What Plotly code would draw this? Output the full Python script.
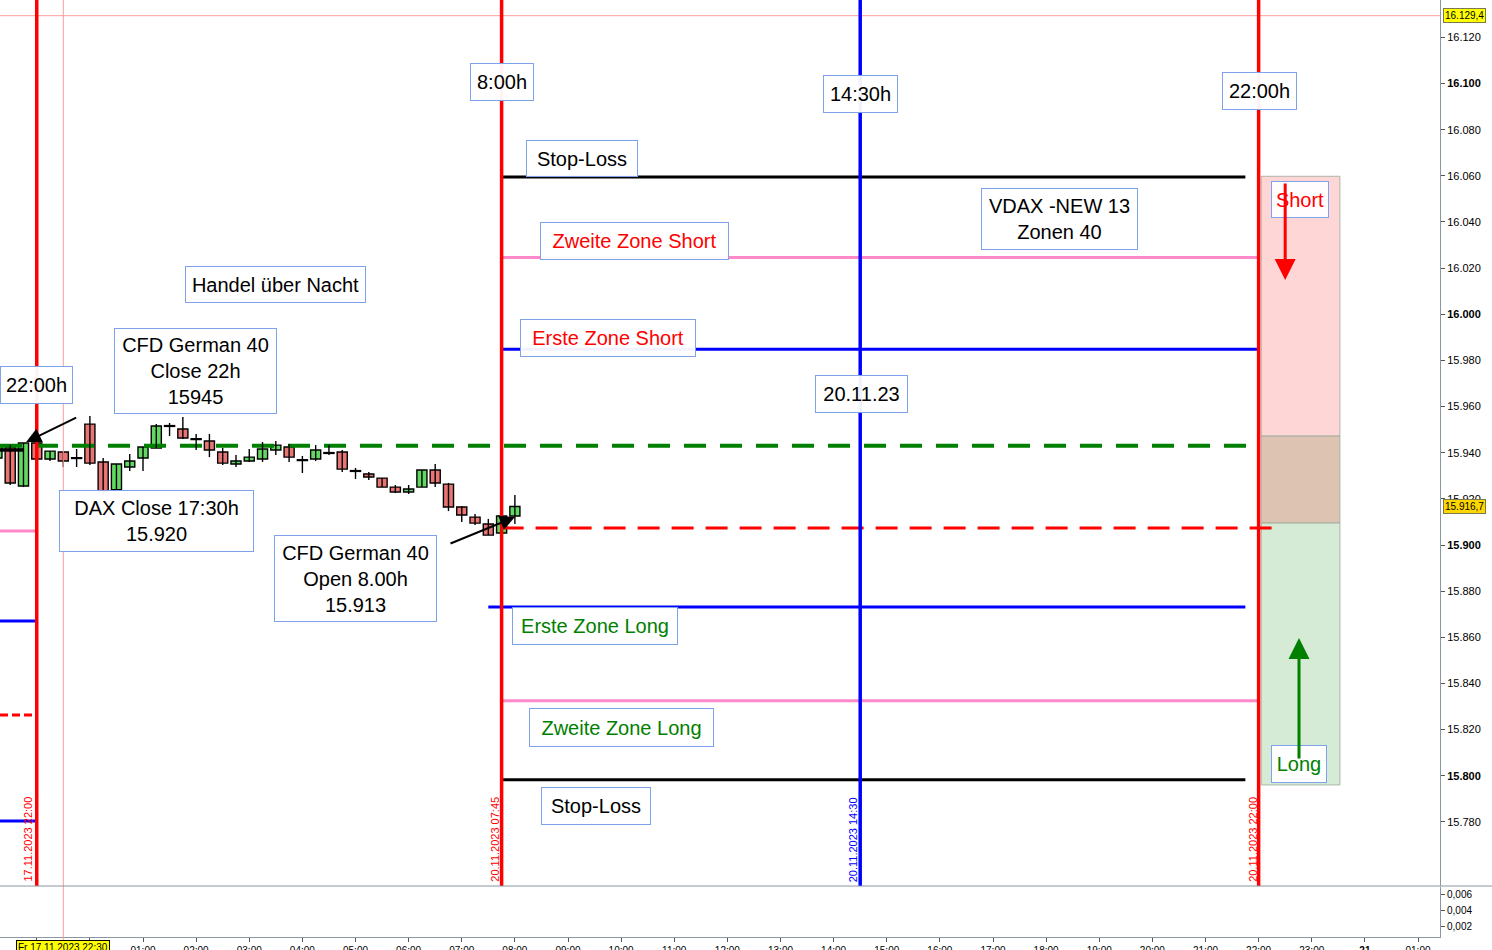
import plotly.graph_objects as go

# ---------------- data ----------------
# candle time positions in hours (0 = 20.11.2023 00:00, weekend gap removed)
candle_hours = [-1.75, -1.5, -1.25, -1.0, -0.75, -0.5, -0.25, 0.0, 0.25, 0.5,
                0.75, 1.0, 1.25, 1.5, 1.75, 2.0, 2.25, 2.5, 2.75, 3.0,
                3.25, 3.5, 3.75, 4.0, 4.25, 4.5, 4.75, 5.0, 5.25, 5.5,
                5.75, 6.0, 6.25, 6.5, 6.75, 7.0, 7.25, 7.5, 7.75, 8.0]
candle_open = [15937.7, 15942.5, 15925.6, 15944.2, 15937.3, 15940.3, 15937.7, 15952.4, 15936.0, 15924.0,
               15933.8, 15937.7, 15942.0, 15951.6, 15950.3, 15945.9, 15945.1, 15940.3, 15935.1, 15936.4,
               15937.3, 15941.2, 15942.5, 15936.8, 15937.3, 15939.9, 15940.3, 15932.1, 15930.8, 15929.0,
               15925.1, 15923.0, 15925.1, 15932.5, 15926.4, 15916.5, 15912.1, 15909.1, 15905.2, 15912.6]
candle_high = [15943.8, 15943.3, 15944.2, 15944.6, 15940.7, 15940.3, 15941.6, 15955.9, 15937.7, 15935.1,
               15939.4, 15942.5, 15952.4, 15952.9, 15955.5, 15948.1, 15948.1, 15942.0, 15939.0, 15941.6,
               15944.6, 15945.1, 15943.8, 15938.6, 15943.3, 15943.3, 15941.2, 15933.4, 15931.6, 15929.0,
               15926.0, 15926.0, 15932.5, 15935.1, 15926.9, 15916.9, 15913.4, 15911.3, 15912.6, 15921.7]
candle_low = [15937.3, 15926.0, 15925.1, 15937.3, 15936.4, 15933.8, 15933.8, 15934.7, 15921.7, 15923.8,
              15932.1, 15932.1, 15942.0, 15947.2, 15945.9, 15941.2, 15938.1, 15934.7, 15933.8, 15936.0,
              15936.0, 15939.0, 15936.0, 15931.2, 15936.4, 15939.0, 15931.6, 15928.6, 15928.2, 15925.1,
              15922.5, 15922.1, 15925.1, 15925.1, 15914.7, 15910.0, 15908.7, 15904.3, 15905.2, 15909.1]
candle_close = [15943.3, 15926.9, 15944.2, 15937.3, 15940.7, 15936.4, 15937.5, 15935.5, 15923.4, 15935.1,
                15936.4, 15942.5, 15951.6, 15951.4, 15946.4, 15945.7, 15941.2, 15935.5, 15936.4, 15938.1,
                15941.6, 15943.3, 15938.1, 15936.6, 15941.2, 15939.7, 15932.9, 15931.9, 15929.5, 15925.1,
                15923.0, 15924.3, 15932.5, 15926.9, 15916.5, 15913.0, 15909.5, 15904.3, 15912.6, 15916.7]

# horizontal levels (prices)
stop_loss_short = 16059.5
zone2_short = 16024.6
zone1_short = 15984.8
cfd_close_22h = 15943.0
cfd_open_8h = 15907.4
zone1_long = 15873.1
zone2_long = 15832.5
stop_loss_long = 15798.3
prev_black = 15941.2
prev_pink = 15906.1
prev_blue_1 = 15867.1
prev_red = 15826.3
prev_blue_2 = 15780.4

# time markers (hours)
t_fri_22 = -1.0
t_cross = -0.5
t_0745 = 7.75
t_1430 = 14.5
t_22 = 22.0

# trade zones
zone_short_top = 16059.8
zone_mid_top = 15947.2
zone_long_top = 15909.5
zone_long_bottom = 15796.0

crosshair_price = 16129.4
last_price = 15916.7

x_tick_vals = [-1, 0, 1, 2, 3, 4, 5, 6, 7, 8, 9, 10, 11, 12, 13, 14, 15, 16, 17, 18, 19, 20, 21, 22, 23, 24, 25]
x_tick_text = ["", "", "01:00", "02:00", "03:00", "04:00", "05:00", "06:00", "07:00", "08:00", "09:00",
               "10:00", "11:00", "12:00", "13:00", "14:00", "15:00", "16:00", "17:00", "18:00", "19:00",
               "20:00", "21:00", "22:00", "23:00", "<b>21</b>", "01:00"]
y_tick_vals = [15780, 15800, 15820, 15840, 15860, 15880, 15900, 15920, 15940, 15960,
               15980, 16000, 16020, 16040, 16060, 16080, 16100, 16120]

# ---------------- figure ----------------
FONT = "Arial, Liberation Sans, sans-serif"
X_RANGE = [-1.692, 25.414]
Y_RANGE = [15752.2, 16136.2]
fig = go.Figure()


def hline(price, x0, x1, color, width, dash="solid"):
    fig.add_trace(go.Scatter(x=[x0, x1], y=[price, price], mode="lines",
                             line=dict(color=color, width=width, dash=dash),
                             hoverinfo="skip", showlegend=False))


# previous-day levels on the left
hline(prev_pink, X_RANGE[0], t_fri_22, "#FF88C8", 3)
hline(prev_blue_1, X_RANGE[0], t_fri_22, "#0000FF", 3)
hline(prev_red, X_RANGE[0], t_fri_22, "#FF0000", 3, "8px,4px")
hline(prev_blue_2, X_RANGE[0], t_fri_22, "#0000FF", 3)
hline(prev_black, X_RANGE[0], -1.25, "#000000", 3.5)

# today's levels
hline(stop_loss_short, t_0745, 21.75, "#000000", 3)
hline(zone2_short, t_0745, t_22, "#FF88C8", 3)
hline(zone1_short, t_0745, t_22, "#0000FF", 3)
hline(cfd_close_22h, X_RANGE[0], t_22, "#008000", 4, "22px,14px")
hline(cfd_open_8h, t_0745, 22.25, "#FF0000", 3, "22px,12px")
hline(zone1_long, 7.5, 21.75, "#0000FF", 3)
hline(zone2_long, t_0745, t_22, "#FF88C8", 3)
hline(stop_loss_long, t_0745, 21.75, "#000000", 3)

# candles: wicks
wx, wy = [], []
for t, h, l in zip(candle_hours, candle_high, candle_low):
    wx += [t, t, None]
    wy += [l, h, None]
fig.add_trace(go.Scatter(x=wx, y=wy, mode="lines", line=dict(color="black", width=1.4),
                         hoverinfo="skip", showlegend=False))
# candles: bodies
bases = [min(o, c) for o, c in zip(candle_open, candle_close)]
heights = [max(abs(c - o), 0.35) for o, c in zip(candle_open, candle_close)]
colors = ["#62D862" if c >= o else "#E97474" for o, c in zip(candle_open, candle_close)]
fig.add_trace(go.Bar(x=candle_hours, y=heights, base=bases, width=0.19,
                     marker=dict(color=colors, line=dict(color="black", width=1.4)),
                     hoverinfo="skip", showlegend=False))

# empty indicator pane
fig.add_trace(go.Scatter(x=[None], y=[None], xaxis="x", yaxis="y2", showlegend=False))

shapes = []
# zones
for y0, y1, col in [(zone_mid_top, zone_short_top, "#FFD6D6"),
                    (zone_long_top, zone_mid_top, "#DCC3B2"),
                    (zone_long_bottom, zone_long_top, "#D6EBD6")]:
    shapes.append(dict(type="rect", xref="x", yref="y", x0=22.05, x1=23.53, y0=y0, y1=y1,
                       fillcolor=col, line=dict(color="#9AA89A", width=0.8), layer="below"))
# crosshair
shapes.append(dict(type="line", xref="paper", yref="y", x0=0, x1=1, y0=crosshair_price, y1=crosshair_price,
                   line=dict(color="#FF9C9C", width=1)))
shapes.append(dict(type="line", xref="x", yref="paper", x0=t_cross, x1=t_cross, y0=-0.02, y1=1,
                   line=dict(color="#FF9C9C", width=1)))
# vertical time lines
for t, col in [(t_fri_22, "#FF0000"), (t_0745, "#FF0000"), (t_1430, "#0000FF"), (t_22, "#FF0000")]:
    shapes.append(dict(type="line", xref="x", yref="y domain", x0=t, x1=t, y0=0, y1=1,
                       line=dict(color=col, width=3.5)))
# pane separator
shapes.append(dict(type="line", xref="paper", yref="paper", x0=0, x1=1.04, y0=0.0544, y1=0.0544,
                   line=dict(color="#8A96A0", width=1)))

annotations = []
BORDER = "#7EA3EC"
boxes = [
    ("8:00h", 7.755, 16100.6, 64, 38, "black"),
    ("14:30h", 14.506, 16095.5, 75, 38, "black"),
    ("22:00h", 22.016, 16096.7, 75, 38, "black"),
    ("Stop-Loss", 9.263, 16067.5, 112, 37, "black"),
    ("Zweite Zone Short", 10.251, 16031.7, 189, 38, "#FF0000"),
    ("VDAX -NEW 13<br>Zonen 40", 18.251, 16041.5, 157, 62, "black"),
    ("Handel über Nacht", 3.494, 16012.9, 181, 37, "black"),
    ("Erste Zone Short", 9.753, 15989.7, 176, 38, "#FF0000"),
    ("22:00h", -1.005, 15969.3, 73, 38, "black"),
    ("CFD German 40<br>Close 22h<br>15945", 1.988, 15975.4, 163, 86, "black"),
    ("20.11.23", 14.524, 15965.4, 93, 38, "black"),
    ("DAX Close 17:30h<br>15.920", 1.254, 15910.4, 195, 62, "black"),
    ("CFD German 40<br>Open 8.00h<br>15.913", 5.0, 15885.5, 163, 87, "black"),
    ("Erste Zone Long", 9.508, 15864.9, 166, 38, "#008000"),
    ("Zweite Zone Long", 10.006, 15820.9, 185, 39, "#008000"),
    ("Stop-Loss", 9.527, 15786.9, 110, 38, "black"),
    ("Short", 22.78, 16049.7, 58, 37, "#FF0000"),
    ("Long", 22.76, 15805.1, 56, 38, "#008000"),
]
for txt, x, y, w, h, col in boxes:
    annotations.append(dict(text=txt, x=x, y=y, xref="x", yref="y", showarrow=False,
                            font=dict(family=FONT, size=20, color=col), align="center",
                            bgcolor="rgba(255,255,255,0.95)", bordercolor=BORDER, borderwidth=1,
                            borderpad=2, width=w - 6, height=h - 6, valign="middle"))

# arrows
annotations.append(dict(x=22.5, y=16014.8, ax=22.5, ay=16057.3, xref="x", yref="y", axref="x", ayref="y",
                        text="", showarrow=True, arrowhead=2, arrowsize=1.4, arrowwidth=3, arrowcolor="#FF0000"))
annotations.append(dict(x=22.76, y=15859.7, ax=22.76, ay=15806.8, xref="x", yref="y", axref="x", ayref="y",
                        text="", showarrow=True, arrowhead=2, arrowsize=1.4, arrowwidth=3, arrowcolor="#008000"))
annotations.append(dict(x=-1.2, y=15944.6, ax=-0.23, ay=15955.5, xref="x", yref="y", axref="x", ayref="y",
                        text="", showarrow=True, arrowhead=2, arrowsize=1.5, arrowwidth=2, arrowcolor="black"))
annotations.append(dict(x=8.0, y=15912.1, ax=6.76, ay=15900.4, xref="x", yref="y", axref="x", ayref="y",
                        text="", showarrow=True, arrowhead=2, arrowsize=1.5, arrowwidth=2, arrowcolor="black"))

# rotated time labels
for txt, x, col in [("17.11.2023 22:00", -1.165, "#FF0000"), ("20.11.2023 07:45", 7.61, "#FF0000"),
                    ("20.11.2023 14:30", 14.36, "#0000FF"), ("20.11.2023 22:00", 21.88, "#FF0000")]:
    annotations.append(dict(text=txt, x=x, y=Y_RANGE[0], xref="x", yref="y", showarrow=False,
                            textangle=-90, xanchor="center", yanchor="bottom", yshift=2,
                            font=dict(family=FONT, size=11, color=col)))

# price labels on the right axis
annotations.append(dict(text="16.129,4", x=1, y=crosshair_price, xref="paper", yref="y", xanchor="left",
                        xshift=3, showarrow=False, bgcolor="#FFFF00", bordercolor="#7A7A50", borderwidth=1,
                        borderpad=1, font=dict(family=FONT, size=10, color="black")))
annotations.append(dict(text="15.916,7", x=1, y=last_price, xref="paper", yref="y", xanchor="left",
                        xshift=3, showarrow=False, bgcolor="#FFD700", bordercolor="#7A7A50", borderwidth=1,
                        borderpad=1, font=dict(family=FONT, size=10, color="black")))
# highlighted time label on the x axis
annotations.append(dict(text="Fr 17.11.2023 22:30", x=t_cross, y=0, xref="x", yref="paper", yanchor="top",
                        yshift=-3, showarrow=False, bgcolor="#FFFF00", bordercolor="black", borderwidth=1,
                        borderpad=1, font=dict(family=FONT, size=10, color="black")))


def fmt_price(v):
    s = f"{v / 1000:.3f}"
    return f"<b>{s}</b>" if v % 100 == 0 else s


fig.update_layout(
    width=1492, height=950,
    margin=dict(l=0, r=52, t=0, b=13, autoexpand=False),
    plot_bgcolor="white", paper_bgcolor="white",
    showlegend=False, hovermode=False, barmode="overlay",
    font=dict(family=FONT, color="black"),
    xaxis=dict(domain=[0, 1], range=X_RANGE, anchor="y2", tickvals=x_tick_vals, ticktext=x_tick_text,
               ticks="outside", ticklen=4, tickcolor="#555", showline=True, linecolor="#8A96A0",
               showgrid=False, zeroline=False, automargin=False,
               tickfont=dict(size=10, family=FONT, color="black")),
    yaxis=dict(domain=[0.0544, 1], range=Y_RANGE, side="right", anchor="x",
               tickvals=y_tick_vals, ticktext=[fmt_price(v) for v in y_tick_vals],
               ticks="outside", ticklen=4, tickcolor="#555", showline=True, linecolor="#8A96A0",
               showgrid=False, zeroline=False, automargin=False,
               tickfont=dict(size=11, family=FONT, color="black")),
    yaxis2=dict(domain=[0, 0.0534], range=[0.00075, 0.007], side="right", anchor="x",
                tickvals=[0.002, 0.004, 0.006], ticktext=["0,002", "0,004", "0,006"],
                ticks="outside", ticklen=4, tickcolor="#555", showline=True, linecolor="#8A96A0",
                showgrid=False, zeroline=False, automargin=False,
                tickfont=dict(size=10, family=FONT, color="black")),
    shapes=shapes, annotations=annotations,
)

fig.write_html("out.html", config={"displayModeBar": False},
               post_script="document.body.style.margin='0';document.body.style.overflow='hidden';")
